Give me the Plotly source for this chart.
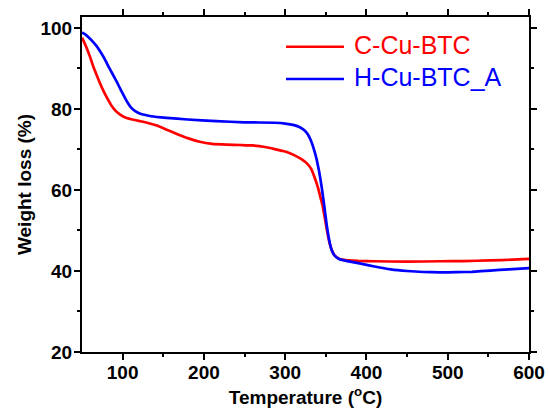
import plotly.graph_objects as go

series_names = ["C-Cu-BTC", "H-Cu-BTC_A"]
series_colors = ["#FF0000", "#0000FF"]

temp_c = [50, 53, 56, 60, 64, 68, 72, 77, 82, 87, 92, 97, 101, 106, 112, 121, 130, 142, 155,
          166, 180, 195, 210, 228, 245, 260, 275, 287, 300, 311, 320, 327, 332, 336, 340, 343,
          346, 349, 352, 355, 358, 361, 364, 368, 375, 390, 409, 450, 491, 520, 552, 580, 600]
weight_c = [97.6, 96.3, 94.9, 92.8, 90.4, 88.4, 86.4, 84.2, 82.3, 80.6, 79.4, 78.6, 78.1, 77.7,
            77.4, 77.0, 76.6, 75.9, 74.8, 73.9, 72.8, 71.9, 71.4, 71.2, 71.1, 71.0, 70.6, 70.1,
            69.5, 68.6, 67.6, 66.5, 65.2, 63.2, 60.8, 58.5, 56.2, 52.8, 49.4, 46.6, 44.8, 43.8,
            43.3, 42.9, 42.7, 42.5, 42.4, 42.3, 42.4, 42.45, 42.6, 42.8, 43.0]

temp_h = [50, 54, 58, 63, 68, 73, 78, 83, 88, 93, 98, 103, 107, 111, 116, 121, 128, 135, 154,
          180, 215, 250, 287, 300, 311, 318, 324, 328, 332, 336, 339, 342, 345, 348, 351, 354,
          357, 360, 363, 367, 373, 380, 393, 410, 430, 450, 470, 490, 511, 530, 552, 575, 600]
weight_h = [98.9, 98.4, 97.7, 96.7, 95.5, 94.0, 92.3, 90.3, 88.5, 86.6, 84.6, 82.7, 81.3, 80.2,
            79.4, 78.9, 78.5, 78.2, 77.8, 77.4, 77.0, 76.7, 76.6, 76.4, 76.0, 75.5, 74.7, 73.7,
            72.0, 69.6, 67.3, 64.3, 60.6, 56.2, 51.5, 47.8, 45.3, 44.0, 43.4, 42.9, 42.6, 42.3,
            41.8, 41.1, 40.4, 40.0, 39.75, 39.65, 39.7, 39.8, 40.1, 40.4, 40.7]

x_ticks = [100, 200, 300, 400, 500, 600]
y_ticks = [20, 40, 60, 80, 100]

fig = go.Figure()
for name, color, xs, ys in [(series_names[0], series_colors[0], temp_c, weight_c),
                            (series_names[1], series_colors[1], temp_h, weight_h)]:
    fig.add_trace(go.Scatter(x=xs, y=ys, mode="lines", name=name, showlegend=False,
                             hoverinfo="skip",
                             line=dict(color=color, width=2.7, shape="spline", smoothing=0.3)))

font_family = "Liberation Sans, Arial, sans-serif"
axis_common = dict(showline=True, linewidth=2, linecolor="black", mirror="allticks",
                   ticks="outside", ticklen=6, tickwidth=2, tickcolor="black",
                   showgrid=False, zeroline=False, automargin=False,
                   tickfont=dict(family=font_family, size=19, color="black", weight="bold"),
                   minor=dict(ticks="outside", ticklen=3, tickwidth=2, tickcolor="black",
                              showgrid=False))

fig.update_xaxes(range=[50, 600], tickvals=x_ticks, **axis_common, ticklabelstandoff=-4,
                 title=dict(text="Temperature (<sup>o</sup>C)", standoff=9,
                            font=dict(family=font_family, size=19, color="black", weight="bold")))
fig.update_yaxes(range=[20, 102.7], tickvals=y_ticks, **axis_common, ticklabelstandoff=-2,
                 title=dict(text="Weight loss (%)", standoff=4,
                            font=dict(family=font_family, size=19, color="black", weight="bold")))
fig.update_xaxes(minor_tickvals=[150, 250, 350, 450, 550])
fig.update_yaxes(minor_tickvals=[30, 50, 70, 90])

# manual legend
leg_y = [0.9113, 0.815]
for i, (name, color) in enumerate(zip(series_names, series_colors)):
    fig.add_shape(type="line", xref="paper", yref="paper", x0=0.4564, x1=0.5861,
                  y0=leg_y[i], y1=leg_y[i], line=dict(color=color, width=2.5))
    fig.add_annotation(xref="paper", yref="paper", x=0.604, y=leg_y[i] + 0.006, text=name,
                       showarrow=False, xanchor="left", yanchor="middle",
                       font=dict(family=font_family, size=25, color=color))

fig.update_layout(width=549, height=410, margin=dict(l=82, r=20, t=17, b=58),
                  plot_bgcolor="white", paper_bgcolor="white")

fig.write_html("out.html", config={"displayModeBar": False, "staticPlot": True},
               post_script="document.body.style.margin='0';document.body.style.overflow='hidden';")
